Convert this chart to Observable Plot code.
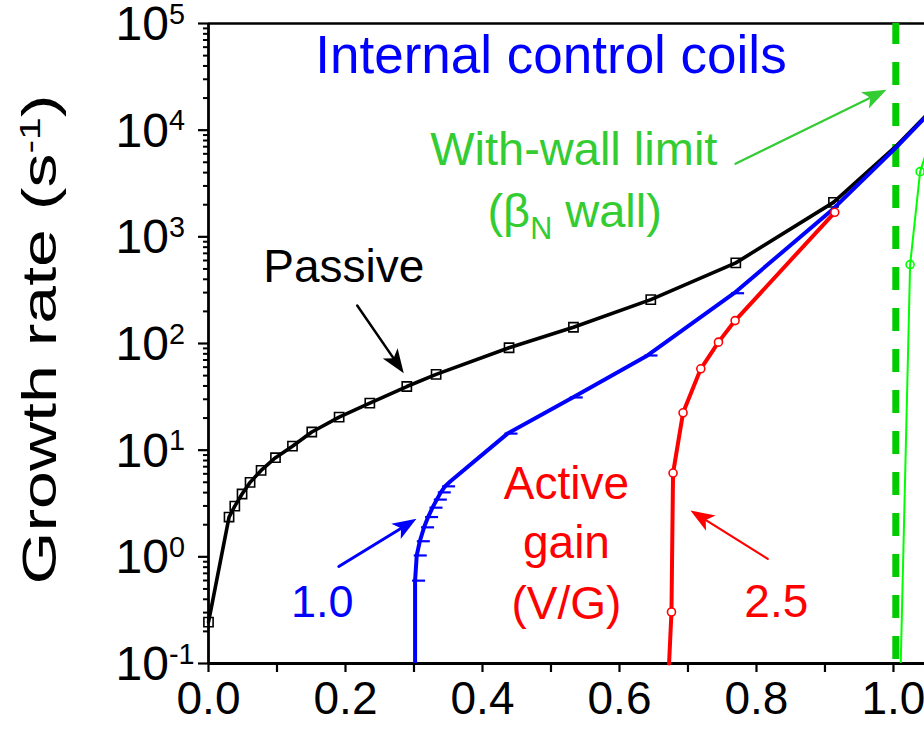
<!DOCTYPE html>
<html><head><meta charset="utf-8">
<script src="https://cdn.jsdelivr.net/npm/d3@7"></script>
<script src="https://cdn.jsdelivr.net/npm/@observablehq/plot@0.6"></script>
<style>body{margin:0;background:#fff} svg{display:block}</style>
</head><body><div id="chart"></div>
<script>
// ---- data (x = normalized beta, y = growth rate in 1/s) ----
const passiveX = [0.0, 0.030, 0.0384, 0.049, 0.0607, 0.0768, 0.0978, 0.1226, 0.1508, 0.1907, 0.2355, 0.2895, 0.3323, 0.4388, 0.5328, 0.6457, 0.7698, 0.9124];
const passiveY = [0.244, 2.36, 2.99, 3.88, 4.99, 6.46, 8.50, 10.9, 14.8, 20.4, 27.6, 39.5, 51.3, 91.2, 142, 258, 570, 2105];
const passiveHighX = [0.9124, 1.003, 1.06];
const passiveHighY = [2105, 7000, 16600];

const gain1X = [0.3016, 0.3016, 0.304, 0.3085, 0.3147, 0.3206, 0.327, 0.3333, 0.3391, 0.3454, 0.3537, 0.4365, 0.5318, 0.6409, 0.7673, 0.9124, 1.003, 1.06];
const gain1Y = [0.1, 0.598, 1.03, 1.40, 1.89, 2.36, 2.89, 3.44, 4.02, 4.58, 5.13, 14.3, 31.2, 77.2, 296, 1837, 6800, 16200];
const gain1MarkX = [0.3016, 0.304, 0.3085, 0.3147, 0.3206, 0.327, 0.3333, 0.3391, 0.3454, 0.4365, 0.5318, 0.6409, 0.7673];
const gain1MarkY = [0.598, 1.03, 1.40, 1.89, 2.36, 2.89, 3.44, 4.02, 4.58, 14.3, 31.2, 77.2, 296];

const gain25X = [0.6724, 0.6759, 0.6782, 0.6928, 0.7187, 0.7445, 0.7688, 0.9143];
const gain25Y = [0.1, 0.304, 6.10, 22.4, 57.9, 103, 164, 1698];
const gain25MarkX = [0.6759, 0.6782, 0.6928, 0.7187, 0.7445, 0.7688, 0.9143];
const gain25MarkY = [0.304, 6.10, 22.4, 57.9, 103, 164, 1698];

const wallX = [1.0106, 1.0243, 1.0389, 1.06];
const wallY = [0.1, 549, 4083, 10700];
const wallMarkX = [1.0243, 1.0389];
const wallMarkY = [549, 4083];
const wallLimitX = [1.0034];

// axis ticks
const xTickValues = [0, 0.1, 0.2, 0.3, 0.4, 0.5, 0.6, 0.7, 0.8, 0.9, 1.0];
const xTickLabels = [0, 0.2, 0.4, 0.6, 0.8, 1.0];
const yDecades = [0.1, 1, 10, 100, 1000, 10000, 100000];
const yExponents = [-1, 0, 1, 2, 3, 4, 5];
const yTitle = ["Growth rate (s^{-1})"];

// annotations (data coordinates)
const labelText = ["Internal control coils", "Passive", "With-wall limit", "(β_{N} wall)", "Active", "gain", "(V/G)", "1.0", "2.5"];
const labelX = [0.500, 0.1975, 0.5333, 0.5346, 0.5226, 0.5226, 0.5226, 0.1660, 0.8289];
const labelY = [49800, 519, 6560, 1702, 4.84, 1.33, 0.363, 0.372, 0.376];
const labelColor = ["#0000ff", "#000000", "#33cc33", "#33cc33", "#ff0000", "#ff0000", "#ff0000", "#0000ff", "#ff0000"];
const labelSize = [53, 46, 47, 47, 46, 46, 46, 45, 46];

const arrowX1 = [0.2171, 0.1902, 0.8165, 0.7693];
const arrowY1 = [227, 0.811, 0.958, 4840];
const arrowX2 = [0.2851, 0.3036, 0.7036, 0.9898];
const arrowY2 = [52.7, 2.27, 2.72, 23900];
const arrowColor = ["#000000", "#0000ff", "#ff0000", "#33cc33"];
const arrowWidth = [2.5, 3, 2.2, 2.2];

// ---- layout ----
const W = 924, H = 737, mL = 208, mR = 0, mT = 23, mB = 74;
const xDomain = [0, 1.0453], yDomain = [0.1, 1e5];

const sx = Plot.scale({x: {domain: xDomain, range: [mL, W - mR]}});
const sy = Plot.scale({y: {type: "log", domain: yDomain, range: [H - mB, mT]}});

const arrows = arrowX1.map((_, i) => {
  const dx = sx.apply(arrowX2[i]) - sx.apply(arrowX1[i]);
  const dy = sy.apply(arrowY2[i]) - sy.apply(arrowY1[i]);
  return {x1: arrowX1[i], y1: arrowY1[i], x2: arrowX2[i], y2: arrowY2[i],
          color: arrowColor[i], w: arrowWidth[i], angle: Math.atan2(dx, -dy) * 180 / Math.PI};
});
const labels = labelText.map((t, i) => ({t, x: labelX[i], y: labelY[i], c: labelColor[i], s: labelSize[i]}));

const zip = (xs, ys) => xs.map((x, i) => ({x, y: ys[i]}));
const passive = zip(passiveX, passiveY);
const passiveHigh = zip(passiveHighX, passiveHighY);
const gain1 = zip(gain1X, gain1Y);
const gain1Marks = zip(gain1MarkX, gain1MarkY);
const gain25 = zip(gain25X, gain25Y);
const gain25Marks = zip(gain25MarkX, gain25MarkY);
const wall = zip(wallX, wallY);
const wallMarks = zip(wallMarkX, wallMarkY);

const yMinor = [];
for (let k = -1; k < 5; k++) for (let m = 2; m <= 9; m++) yMinor.push(m * Math.pow(10, k));

const dashSymbol = {draw(c) { c.moveTo(-3, 0); c.lineTo(10, 0); }};
const headSymbol = {draw(c) { c.moveTo(0, 0); c.lineTo(-9, 24); c.lineTo(0, 18); c.lineTo(9, 24); c.closePath(); }};

const plot = Plot.plot({
  width: W, height: H,
  marginLeft: mL, marginRight: mR, marginTop: mT, marginBottom: mB,
  style: {fontFamily: "'Liberation Sans', Arial, sans-serif", background: "white", overflow: "visible"},
  x: {domain: xDomain, axis: null},
  y: {type: "log", domain: yDomain, axis: null},
  marks: [
    // axes ticks
    Plot.axisY({ticks: yMinor, tickSize: 5, tickFormat: () => "", strokeWidth: 2, label: null}),
    Plot.axisY({ticks: yDecades, tickSize: 10, tickFormat: () => "", strokeWidth: 2.2, label: null}),
    Plot.axisX({ticks: xTickValues, tickSize: 9, tickFormat: () => "", strokeWidth: 2.2, label: null}),
    // frame lines
    Plot.ruleY([yDomain[1]], {stroke: "black", strokeWidth: 2.5}),
    Plot.ruleY([yDomain[0]], {stroke: "black", strokeWidth: 2.8}),
    Plot.ruleX([0], {stroke: "black", strokeWidth: 2.8}),
    // tick labels
    Plot.text(xTickLabels, {x: d => d, frameAnchor: "bottom", dy: 50, text: d => d.toFixed(1), fontSize: 46, fill: "black"}),
    Plot.text(yDecades, {y: d => d, frameAnchor: "left", dx: -93, dy: 1, textAnchor: "start", text: (d, i) => `10^{${yExponents[i]}}`, fontSize: 48, fill: "black"}),
    // y label
    Plot.text(yTitle, {frameAnchor: "left", dx: -168, y: [109], rotate: -90, textAnchor: "middle", fontSize: 48, fill: "black"}),
    // with-wall limit
    Plot.ruleX(wallLimitX, {stroke: "#00cc00", strokeWidth: 7, strokeDasharray: "23,18", y1: yDomain[0], y2: yDomain[1], insetTop: -4}),
    Plot.line(wall, {x: "x", y: "y", stroke: "#00ff00", strokeWidth: 2, clip: true}),
    Plot.dot(wallMarks, {x: "x", y: "y", r: 4, stroke: "#00ff00", strokeWidth: 1.6, fill: "none"}),
    // passive
    Plot.line(passiveHigh, {x: "x", y: "y", stroke: "black", strokeWidth: 3.6, clip: true}),
    Plot.line(passive, {x: "x", y: "y", stroke: "black", strokeWidth: 3.6}),
    Plot.dot(passive, {x: "x", y: "y", symbol: "square", r: 5.2, stroke: "black", strokeWidth: 1.6, fill: "none"}),
    // gain 1.0
    Plot.line(gain1, {x: "x", y: "y", stroke: "#0000ff", strokeWidth: 4, clip: true}),
    Plot.dot(gain1Marks, {x: "x", y: "y", symbol: dashSymbol, stroke: "#0000ff", strokeWidth: 2.2, fill: "none"}),
    // gain 2.5
    Plot.line(gain25, {x: "x", y: "y", stroke: "#ff0000", strokeWidth: 4}),
    Plot.dot(gain25Marks, {x: "x", y: "y", r: 4, stroke: "#ff0000", strokeWidth: 1.6, fill: "white"}),
    // arrows
    Plot.arrow(arrows, {x1: "x1", y1: "y1", x2: "x2", y2: "y2", stroke: "color", strokeWidth: "w", headLength: 0, insetEnd: 14}),
    Plot.dot(arrows, {x: "x2", y: "y2", symbol: headSymbol, rotate: "angle", fill: "color", stroke: "none"}),
    // labels
    Plot.text(labels, {x: "x", y: "y", text: "t", fill: "c", fontSize: "s"})
  ]
});

// superscript/subscript handling: ^{...} and _{...}
function applyScripts(svg) {
  svg.querySelectorAll("text").forEach(t => {
    const s = t.textContent;
    if (!/[\^_]\{/.test(s)) return;
    t.textContent = "";
    const re = /([\^_])\{([^}]*)\}/g;
    let last = 0, m, shift = 0;
    const ns = "http://www.w3.org/2000/svg";
    const add = (str, kind) => {
      if (!str) return;
      const ts = document.createElementNS(ns, "tspan");
      ts.textContent = str;
      if (kind === "sup") { ts.setAttribute("font-size", "60%"); ts.setAttribute("dy", (-0.34 / 0.6 - shift / 0.6) + "em"); shift = -0.34; }
      else if (kind === "sub") { ts.setAttribute("font-size", "65%"); ts.setAttribute("dy", (0.26 / 0.65 - shift / 0.65) + "em"); shift = 0.26; }
      else { if (shift) ts.setAttribute("dy", (-shift) + "em"); shift = 0; }
      t.appendChild(ts);
    };
    while ((m = re.exec(s))) {
      add(s.slice(last, m.index), "normal");
      add(m[2], m[1] === "^" ? "sup" : "sub");
      last = re.lastIndex;
    }
    add(s.slice(last), "normal");
  });
}
applyScripts(plot);
// the reference's axis title is drawn elongated along its length
plot.querySelectorAll("text").forEach(t => {
  if (t.textContent.startsWith("Growth")) {
    t.setAttribute("textLength", 490);
    t.setAttribute("lengthAdjust", "spacingAndGlyphs");
  }
});
document.getElementById("chart").appendChild(plot);
</script>
</body></html>
